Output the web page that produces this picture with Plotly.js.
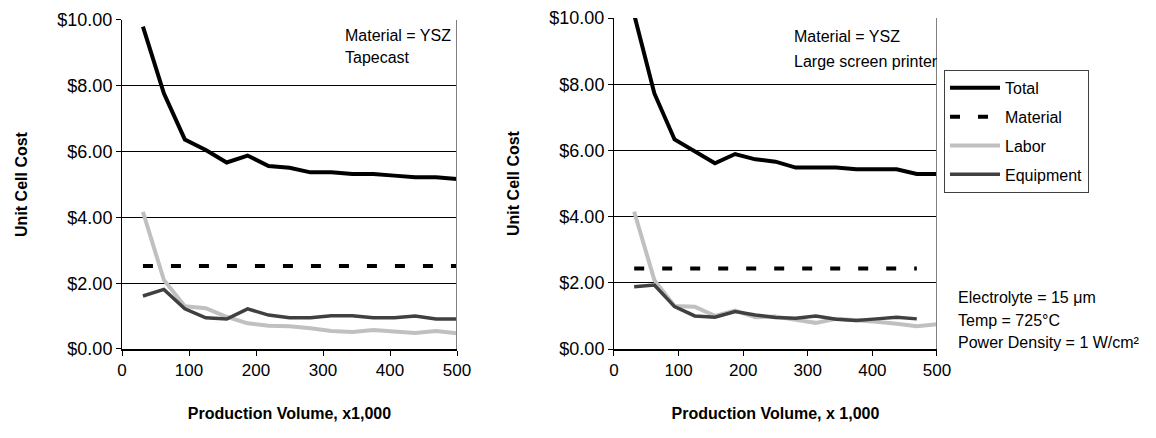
<!DOCTYPE html>
<html>
<head>
<meta charset="utf-8">
<script src="https://cdn.plot.ly/plotly-3.0.1.min.js"></script>
<style>
  html, body { margin: 0; padding: 0; background: #ffffff; }
  #chart { width: 1156px; height: 438px; }
</style>
</head>
<body>
<div id="chart"></div>
<script>
// Production volume (thousands)
const volume = [31.25, 62.5, 93.75, 125, 156.25, 187.5, 218.75, 250, 281.25, 312.5, 343.75, 375, 406.25, 437.5, 468.75, 500];

// Left chart: Material = YSZ, Tapecast
const tapeTotal     = [9.80, 7.77, 6.37, 6.05, 5.67, 5.88, 5.56, 5.51, 5.37, 5.37, 5.32, 5.32, 5.27, 5.22, 5.22, 5.17];
const tapeMaterial  = [2.52, 2.52, 2.52, 2.52, 2.52, 2.52, 2.52, 2.52, 2.52, 2.52, 2.52, 2.52, 2.52, 2.52, 2.52, 2.52];
const tapeLabor     = [4.17, 2.10, 1.30, 1.24, 0.98, 0.78, 0.71, 0.69, 0.63, 0.55, 0.52, 0.58, 0.53, 0.49, 0.55, 0.48];
const tapeEquipment = [1.61, 1.81, 1.22, 0.95, 0.91, 1.22, 1.03, 0.95, 0.95, 1.01, 1.01, 0.95, 0.95, 1.00, 0.91, 0.91];

// Right chart: Material = YSZ, Large screen printer
const screenTotal     = [10.10, 7.72, 6.33, 5.96, 5.61, 5.89, 5.73, 5.66, 5.48, 5.48, 5.48, 5.43, 5.43, 5.43, 5.29, 5.29];
const screenMaterial  = [2.43, 2.43, 2.43, 2.43, 2.43, 2.43, 2.43, 2.43, 2.43, 2.43, 2.43, 2.43, 2.43, 2.43, 2.43];
const screenLabor     = [4.15, 2.08, 1.30, 1.28, 1.00, 1.16, 0.96, 0.98, 0.88, 0.79, 0.91, 0.88, 0.82, 0.76, 0.69, 0.75];
const screenEquipment = [1.88, 1.93, 1.28, 1.00, 0.96, 1.13, 1.03, 0.95, 0.93, 1.00, 0.90, 0.86, 0.91, 0.96, 0.91];

const seriesNames = ['Total', 'Material', 'Labor', 'Equipment'];
const xTickVals = [0, 100, 200, 300, 400, 500];
const yTickVals = [0, 2, 4, 6, 8, 10];
const yTickText = ['$0.00', '$2.00', '$4.00', '$6.00', '$8.00', '$10.00'];

const FONT = 'Liberation Sans, Arial, sans-serif';
const styles = {
  Total:     { color: '#000000', width: 4, dash: 'solid' },
  Material:  { color: '#000000', width: 4, dash: '10px,18px' },
  Labor:     { color: '#c0c0c0', width: 4, dash: 'solid' },
  Equipment: { color: '#404040', width: 3.5, dash: 'solid' }
};

function series(name, y, xa, ya, show) {
  return {
    type: 'scatter', mode: 'lines', name: name,
    x: volume.slice(0, y.length), y: y,
    xaxis: xa, yaxis: ya,
    line: styles[name],
    legendgroup: name, showlegend: show,
    hoverinfo: 'x+y+name'
  };
}

const traces = [
  series('Total', tapeTotal, 'x', 'y', false),
  series('Material', tapeMaterial, 'x', 'y', false),
  series('Labor', tapeLabor, 'x', 'y', false),
  series('Equipment', tapeEquipment, 'x', 'y', false),
  series('Total', screenTotal, 'x2', 'y2', true),
  series('Material', screenMaterial, 'x2', 'y2', true),
  series('Labor', screenLabor, 'x2', 'y2', true),
  series('Equipment', screenEquipment, 'x2', 'y2', true)
];

function xAxis(domain, anchor, title) {
  return {
    domain: domain, anchor: anchor, range: [0, 500],
    tickvals: xTickVals, ticks: 'outside', ticklen: 5, tickwidth: 1, tickcolor: '#000',
    showline: true, linecolor: '#000', linewidth: 2,
    showgrid: false, zeroline: false,
    tickfont: { family: FONT, size: 17, color: '#000' },
    title: { text: '<b>' + title + '</b>', font: { family: FONT, size: 16, color: '#000' }, standoff: 28 },
    fixedrange: true
  };
}
function yAxis(domain, anchor) {
  return {
    domain: domain, anchor: anchor, range: [0, 10],
    tickvals: yTickVals, ticktext: yTickText,
    ticks: 'outside', ticklen: 5, tickwidth: 1, tickcolor: '#000',
    showline: true, linecolor: '#000', linewidth: 1,
    showgrid: true, gridcolor: '#000', gridwidth: 1, zeroline: false,
    tickfont: { family: FONT, size: 18, color: '#000' },
    title: { text: '<b>Unit Cell Cost</b>', font: { family: FONT, size: 16, color: '#000' }, standoff: 25 },
    fixedrange: true
  };
}

const ann = (text, x, y, xref, yref) => ({
  text: text, x: x, y: y, xref: xref, yref: yref,
  xanchor: 'left', yanchor: 'middle', showarrow: false, align: 'left',
  font: { family: FONT, size: 16, color: '#000' }
});

const layout = {
  width: 1156, height: 438,
  margin: { l: 122, r: 219, t: 18, b: 89 },
  paper_bgcolor: '#ffffff', plot_bgcolor: '#ffffff',
  font: { family: FONT, color: '#000' },
  showlegend: true,
  xaxis: xAxis([0, 0.41104], 'y', 'Production Volume, x1,000'),
  yaxis: yAxis([0, 0.99396], 'x'),
  xaxis2: xAxis([0.60368, 1], 'y2', 'Production Volume, x 1,000'),
  yaxis2: yAxis([0, 1], 'x2'),
  legend: {
    x: 1.0086, y: 0.843, xanchor: 'left', yanchor: 'top',
    bgcolor: '#ffffff', bordercolor: '#404040', borderwidth: 1,
    font: { family: FONT, size: 16, color: '#000' },
    tracegroupgap: 5, traceorder: 'grouped', itemwidth: 50
  },
  shapes: [
    { type: 'line', xref: 'x', yref: 'y domain', x0: 500, x1: 500, y0: 0, y1: 1, line: { color: '#808080', width: 2 } },
    { type: 'line', xref: 'x2', yref: 'y2 domain', x0: 500, x1: 500, y0: 0, y1: 1, line: { color: '#808080', width: 2 } }
  ],
  annotations: [
    ann('Material = YSZ', 0.66, 0.954, 'x domain', 'y domain'),
    ann('Tapecast', 0.66, 0.885, 'x domain', 'y domain'),
    ann('Material = YSZ', 0.551, 0.943, 'x2 domain', 'y2 domain'),
    ann('Large screen printer', 0.551, 0.870, 'x2 domain', 'y2 domain'),
    ann('Electrolyte = 15 μm', 1.0233, 0.157, 'paper', 'paper'),
    ann('Temp = 725°C', 1.0233, 0.0876, 'paper', 'paper'),
    ann('Power Density = 1 W/cm²', 1.0233, 0.0211, 'paper', 'paper')
  ]
};

Plotly.newPlot('chart', traces, layout, { displayModeBar: false, staticPlot: true });
</script>
</body>
</html>
